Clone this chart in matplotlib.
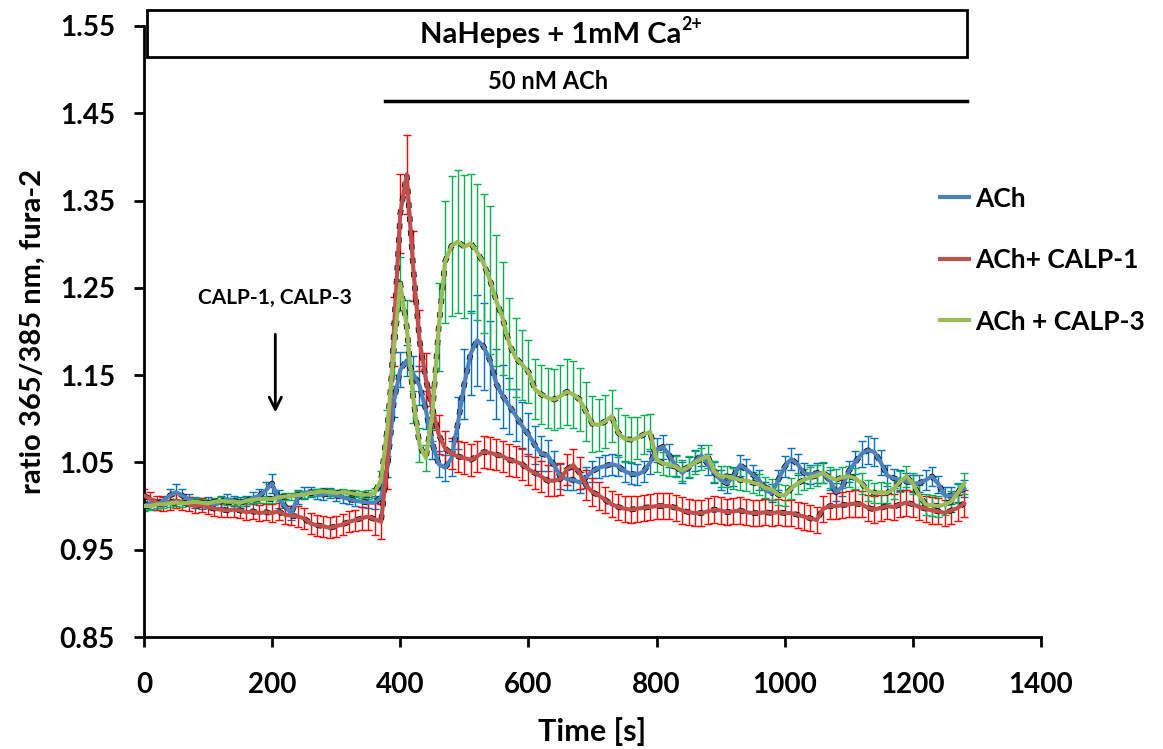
import numpy as np
import matplotlib
matplotlib.use('Agg')
from matplotlib import pyplot as plt
from matplotlib.patches import Rectangle

time_s = list(range(0, 1281, 10))

ach = [
    1.000, 1.003, 1.002, 1.006, 1.012, 1.016, 1.012, 1.008, 1.004, 1.003,
    1.004, 1.002, 1.005, 1.008, 1.006, 1.004, 1.006, 1.009, 1.012, 1.018,
    1.026, 1.008, 1.000, 0.992, 1.010, 1.015, 1.016, 1.014, 1.013, 1.015,
    1.012, 1.010, 1.008, 1.006, 1.005, 1.004, 1.004,
    1.010, 1.045, 1.120, 1.156, 1.167, 1.152, 1.138, 1.110, 1.072, 1.048,
    1.044, 1.055, 1.095, 1.140, 1.175, 1.190, 1.183, 1.167,
    1.140, 1.126, 1.115, 1.104, 1.092, 1.082, 1.070, 1.060, 1.058, 1.047,
    1.034, 1.031, 1.030, 1.027, 1.033, 1.040, 1.044, 1.046, 1.048, 1.046,
    1.040, 1.037, 1.036, 1.040, 1.050, 1.064, 1.068, 1.058, 1.046, 1.038,
    1.044, 1.052, 1.058, 1.048, 1.038, 1.030, 1.026, 1.034, 1.047, 1.042,
    1.036, 1.030, 1.018, 1.015, 1.030, 1.045, 1.054,
    1.048, 1.038, 1.036, 1.038, 1.038, 1.030, 1.016, 1.022, 1.040, 1.050,
    1.060, 1.064, 1.062, 1.050, 1.035, 1.032, 1.030, 1.028, 1.026, 1.026,
    1.030, 1.034, 1.025, 1.012, 1.012, 1.015, 1.020,
]
ach_err = [
    0.006, 0.006, 0.006, 0.006, 0.008, 0.009, 0.008, 0.006, 0.006, 0.006,
    0.006, 0.006, 0.006, 0.006, 0.006, 0.006, 0.006, 0.007, 0.008, 0.010,
    0.011, 0.010, 0.008, 0.008, 0.008, 0.007, 0.006, 0.006, 0.006, 0.006,
    0.006, 0.006, 0.006, 0.006, 0.006, 0.006, 0.007,
    0.008, 0.012, 0.018, 0.020, 0.018, 0.020, 0.022, 0.022, 0.018, 0.015,
    0.015, 0.020, 0.030, 0.040, 0.048, 0.052, 0.050, 0.045,
    0.040, 0.036, 0.032, 0.030, 0.027, 0.025, 0.022, 0.020, 0.018, 0.016,
    0.014, 0.013, 0.012, 0.012, 0.012, 0.012, 0.012, 0.012, 0.012, 0.012,
    0.012, 0.012, 0.012, 0.012, 0.013, 0.014, 0.014, 0.013, 0.012, 0.012,
    0.012, 0.012, 0.012, 0.012, 0.012, 0.011, 0.011, 0.011, 0.012, 0.012,
    0.011, 0.011, 0.010, 0.010, 0.011, 0.012, 0.013,
    0.012, 0.011, 0.011, 0.011, 0.011, 0.011, 0.010, 0.010, 0.012, 0.013,
    0.015, 0.016, 0.016, 0.014, 0.012, 0.011, 0.011, 0.010, 0.010, 0.010,
    0.011, 0.011, 0.010, 0.010, 0.010, 0.010, 0.010,
]

ach_calp1 = [
    1.012, 1.008, 1.004, 1.002, 1.004, 1.006, 1.004, 1.002, 1.000, 1.001,
    0.999, 0.997, 0.996, 0.995, 0.996, 0.995, 0.993, 0.994, 0.992, 0.993,
    0.992, 0.994, 0.990, 0.989, 0.988, 0.986, 0.980, 0.978, 0.977, 0.975,
    0.977, 0.979, 0.982, 0.984, 0.986, 0.988, 0.985,
    0.982, 1.050, 1.200, 1.335, 1.380, 1.275, 1.190, 1.145, 1.112, 1.082,
    1.066, 1.060, 1.057, 1.055, 1.053, 1.057, 1.062, 1.061,
    1.059, 1.057, 1.053, 1.051, 1.048, 1.042, 1.038, 1.034, 1.029, 1.029,
    1.031, 1.042, 1.047, 1.038, 1.024, 1.016, 1.012, 1.007, 1.002, 0.999,
    0.997, 0.996, 0.997, 0.998, 0.999, 1.000, 1.000, 1.000, 0.998, 0.995,
    0.993, 0.992, 0.992, 0.994, 0.996, 0.995, 0.993, 0.994, 0.995, 0.993,
    0.992, 0.992, 0.993, 0.992, 0.993, 0.992, 0.992,
    0.990, 0.988, 0.986, 0.984, 0.997, 1.000, 1.000, 1.001, 1.002, 1.003,
    1.002, 0.998, 0.996, 0.998, 1.000, 0.999, 1.002, 1.004, 1.002, 0.999,
    0.997, 0.995, 0.994, 0.992, 0.995, 0.998, 1.003,
]
ach_calp1_err = [
    0.008, 0.008, 0.008, 0.008, 0.008, 0.008, 0.008, 0.008, 0.008, 0.008,
    0.008, 0.008, 0.008, 0.008, 0.008, 0.009, 0.009, 0.009, 0.009, 0.009,
    0.010, 0.010, 0.010, 0.011, 0.012, 0.012, 0.012, 0.012, 0.012, 0.012,
    0.012, 0.012, 0.012, 0.012, 0.013, 0.015, 0.018,
    0.020, 0.030, 0.040, 0.045, 0.045, 0.040, 0.035, 0.030, 0.025, 0.022,
    0.020, 0.018, 0.018, 0.018, 0.018, 0.018, 0.018, 0.018,
    0.018, 0.018, 0.018, 0.018, 0.018, 0.018, 0.018, 0.018, 0.018, 0.018,
    0.018, 0.018, 0.018, 0.018, 0.017, 0.016, 0.016, 0.015, 0.015, 0.015,
    0.015, 0.015, 0.015, 0.015, 0.015, 0.015, 0.015, 0.015, 0.015, 0.015,
    0.015, 0.015, 0.015, 0.015, 0.015, 0.015, 0.015, 0.015, 0.015, 0.015,
    0.015, 0.015, 0.015, 0.015, 0.015, 0.015, 0.015,
    0.015, 0.015, 0.015, 0.015, 0.015, 0.015, 0.015, 0.015, 0.015, 0.015,
    0.015, 0.015, 0.015, 0.015, 0.015, 0.015, 0.015, 0.015, 0.015, 0.015,
    0.015, 0.015, 0.015, 0.015, 0.015, 0.015, 0.015,
]

ach_calp3 = [
    1.000, 1.000, 1.002, 1.002, 1.003, 1.004, 1.003, 1.004, 1.005, 1.004,
    1.003, 1.005, 1.006, 1.005, 1.005, 1.004, 1.006, 1.007, 1.008, 1.008,
    1.008, 1.010, 1.011, 1.011, 1.013, 1.013, 1.015, 1.016, 1.017, 1.016,
    1.015, 1.016, 1.015, 1.014, 1.013, 1.013, 1.015,
    1.030, 1.090, 1.180, 1.255, 1.206, 1.125, 1.070, 1.055, 1.105, 1.205,
    1.280, 1.298, 1.303, 1.297, 1.301, 1.291, 1.278, 1.259,
    1.235, 1.215, 1.186, 1.170, 1.162, 1.154, 1.134, 1.128, 1.124, 1.122,
    1.126, 1.131, 1.128, 1.122, 1.108, 1.094, 1.093, 1.097, 1.103, 1.084,
    1.077, 1.076, 1.078, 1.082, 1.085, 1.053, 1.049, 1.047, 1.045, 1.041,
    1.045, 1.050, 1.054, 1.057, 1.040, 1.034, 1.034, 1.032, 1.030, 1.029,
    1.027, 1.025, 1.021, 1.019, 1.013, 1.012, 1.020,
    1.026, 1.030, 1.033, 1.035, 1.038, 1.033, 1.030, 1.033, 1.034, 1.032,
    1.026, 1.018, 1.015, 1.016, 1.015, 1.020, 1.028, 1.034, 1.026, 1.012,
    1.002, 1.001, 1.000, 1.002, 1.005, 1.015, 1.026,
]
ach_calp3_err = [
    0.004, 0.004, 0.004, 0.004, 0.004, 0.004, 0.004, 0.004, 0.004, 0.004,
    0.004, 0.004, 0.004, 0.004, 0.004, 0.004, 0.004, 0.004, 0.004, 0.004,
    0.004, 0.004, 0.004, 0.004, 0.004, 0.004, 0.004, 0.004, 0.004, 0.004,
    0.004, 0.004, 0.004, 0.004, 0.004, 0.005, 0.006,
    0.010, 0.020, 0.030, 0.030, 0.030, 0.030, 0.020, 0.015, 0.030, 0.050,
    0.070, 0.080, 0.082, 0.082, 0.080, 0.078, 0.080, 0.085,
    0.075, 0.065, 0.052, 0.045, 0.040, 0.036, 0.034, 0.034, 0.034, 0.035,
    0.036, 0.038, 0.038, 0.036, 0.034, 0.032, 0.030, 0.030, 0.030, 0.028,
    0.027, 0.026, 0.024, 0.022, 0.020, 0.014, 0.013, 0.012, 0.012, 0.012,
    0.012, 0.013, 0.013, 0.013, 0.012, 0.012, 0.012, 0.012, 0.012, 0.012,
    0.012, 0.012, 0.012, 0.012, 0.012, 0.012, 0.012,
    0.012, 0.012, 0.012, 0.012, 0.012, 0.012, 0.012, 0.012, 0.012, 0.012,
    0.012, 0.012, 0.012, 0.012, 0.012, 0.012, 0.012, 0.012, 0.012, 0.012,
    0.012, 0.012, 0.012, 0.012, 0.012, 0.012, 0.012,
]

series = [
    ('ACh', ach, ach_err, '#4F81BD', '#0070C0'),
    ('ACh+ CALP-1', ach_calp1, ach_calp1_err, '#C0504D', '#FF0000'),
    ('ACh + CALP-3', ach_calp3, ach_calp3_err, '#9BBB59', '#00B050'),
]

plt.rcParams['font.family'] = ['Lato', 'DejaVu Sans']
plt.rcParams['font.weight'] = 'bold'

fig = plt.figure(figsize=(11.63, 7.49), dpi=100)
ax = fig.add_axes([0.1238, 0.1495, 0.7713, 0.8158])

for name, y, err, line_color, err_color in series:
    ax.errorbar(time_s, y, yerr=err, fmt='none', ecolor=err_color,
                elinewidth=1.0, capsize=3, capthick=1.0, zorder=2)

for name, y, err, line_color, err_color in series:
    ax.plot(time_s, y, color='black', linewidth=4.0, linestyle=(0, (1.0, 1.5)), zorder=3)
    ax.plot(time_s, y, color=line_color, linewidth=3, label=name, zorder=4)

ax.set_xlim(0, 1400)
ax.set_ylim(0.85, 1.55)
ax.set_xticks(np.arange(0, 1401, 200))
ax.set_yticks(np.arange(0.85, 1.56, 0.1))
ax.set_yticklabels([f'{v:.2f}' for v in np.arange(0.85, 1.56, 0.1)])
ax.tick_params(labelsize=20, width=2, length=7, direction='out')
ax.tick_params(axis='x', pad=18)
ax.tick_params(axis='y', pad=14)
for lbl in ax.get_xticklabels() + ax.get_yticklabels():
    lbl.set_fontweight('bold')
ax.spines['top'].set_visible(False)
ax.spines['right'].set_visible(False)
ax.spines['left'].set_linewidth(2)
ax.spines['bottom'].set_linewidth(2)

ax.set_xlabel('Time [s]', fontsize=22, fontweight='bold', labelpad=14)
ax.set_ylabel('ratio 365/385 nm, fura-2', fontsize=21, fontweight='bold', labelpad=10)

# solution bar on top
ax.add_patch(Rectangle((5, 1.5145), 1280, 0.0535, fill=False, edgecolor='black',
                       linewidth=2, clip_on=False, zorder=5))
sol = ax.text(635, 1.540, 'NaHepes + 1mM Ca', ha='center', va='center',
              fontsize=21, fontweight='bold')
ax.annotate('2+', xy=(1.0, 0.55), xycoords=sol, ha='left', va='bottom',
            fontsize=13, fontweight='bold')
ax.plot([376, 1284], [1.464, 1.464], color='black', linewidth=2.5, clip_on=False)
ax.text(631, 1.486, '50 nM ACh', ha='center', va='center', fontsize=17, fontweight='bold')

ax.annotate('', xy=(205, 1.104), xytext=(205, 1.20),
            arrowprops=dict(arrowstyle='->', color='black', lw=2, mutation_scale=22))
ax.text(205, 1.238, 'CALP-1, CALP-3', ha='center', va='center', fontsize=15, fontweight='bold')

ax.legend(loc='upper left', bbox_to_anchor=(0.887, 0.737), frameon=False, fontsize=19,
          borderpad=0, borderaxespad=0, handlelength=1.1, handletextpad=0.25,
          labelspacing=1.42)

fig.savefig('out.png', dpi=100)
